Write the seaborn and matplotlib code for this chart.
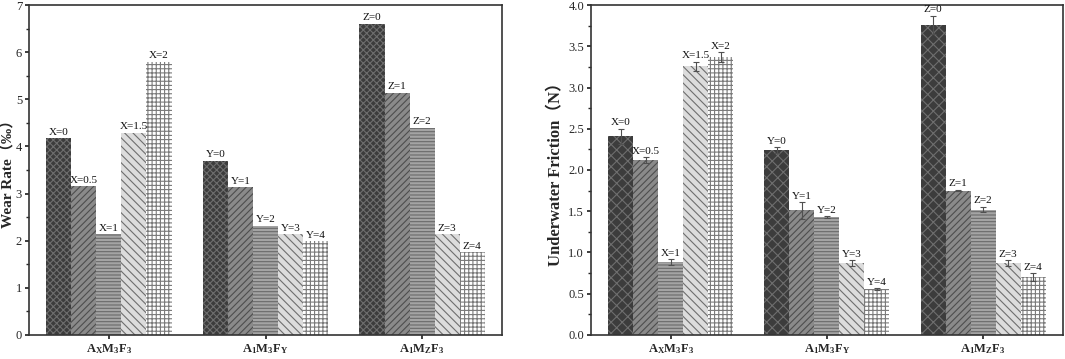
import numpy as np
import pandas as pd
import seaborn as sns
import matplotlib.pyplot as plt

# Data
groups = [r"$\mathbf{A_XM_3F_3}$", r"$\mathbf{A_1M_3F_Y}$", r"$\mathbf{A_1M_ZF_3}$"]
bar_labels = [
    ["X=0", "X=0.5", "X=1", "X=1.5", "X=2"],
    ["Y=0", "Y=1", "Y=2", "Y=3", "Y=4"],
    ["Z=0", "Z=1", "Z=2", "Z=3", "Z=4"],
]
wear_rate = [
    [4.17, 3.16, 2.14, 4.29, 5.80],
    [3.70, 3.13, 2.32, 2.14, 1.99],
    [6.60, 5.14, 4.40, 2.14, 1.75],
]
friction = [
    [2.41, 2.12, 0.88, 3.26, 3.37],
    [2.24, 1.51, 1.43, 0.87, 0.56],
    [3.76, 1.75, 1.52, 0.87, 0.70],
]
friction_err = [
    [0.09, 0.035, 0.035, 0.055, 0.06],
    [0.04, 0.10, 0.01, 0.04, 0.01],
    [0.11, 0.01, 0.035, 0.04, 0.05],
]

# styles for the five bars in each group
face_colors = ["#3c3c3c", "#8a8a8a", "#a4a4a4", "#dcdcdc", "#ffffff"]
hatch_colors = ["#6e6e6e", "#4e4e4e", "#6a6a6a", "#6e6e6e", "#7a7a7a"]
hatches_left = ["xxxxx", "/////", "-----", "\\\\\\\\", "++++"]
hatches_right = ["xxx", "/////", "-----", "\\\\\\\\", "++++"]

sns.set_theme(style="ticks")
plt.rcParams["font.family"] = ["Liberation Serif", "Noto Sans CJK SC"]
plt.rcParams["mathtext.fontset"] = "custom"
plt.rcParams["mathtext.rm"] = "Liberation Serif"
plt.rcParams["mathtext.bf"] = "Liberation Serif:bold"
plt.rcParams["hatch.linewidth"] = 0.8


def make_frame(values):
    rows = []
    for g, vals in zip(groups, values):
        for i, v in enumerate(vals):
            rows.append({"group": g, "pos": i, "value": v})
    return pd.DataFrame(rows)


def draw_panel(ax, values, hatches, errs=None):
    df = make_frame(values)
    sns.barplot(data=df, x="group", y="value", hue="pos", order=groups,
                hue_order=[0, 1, 2, 3, 4], width=0.8, dodge=True,
                errorbar=None, legend=False, ax=ax, linewidth=0)
    bars = [p for p in ax.patches if p.get_height() > 0]
    # seaborn orders patches by hue level, then by x group
    for k, p in enumerate(bars):
        hue_i = k // len(groups)
        grp_i = k % len(groups)
        p.set_facecolor(face_colors[hue_i])
        p.set_edgecolor(hatch_colors[hue_i])
        p.set_hatch(hatches[hue_i])
        p.set_linewidth(0)
        xc = p.get_x() + p.get_width() / 2
        top = p.get_height()
        if errs is not None:
            e = errs[grp_i][hue_i]
            ax.errorbar(xc, top, yerr=e, color="#505050", capsize=2.5,
                        elinewidth=0.8, capthick=0.8)
            top += e
        ax.annotate(bar_labels[grp_i][hue_i], (xc, top), xytext=(0, 1),
                    textcoords="offset points", ha="center", va="bottom",
                    fontsize=8, color="#111111")
    ax.set_xlim(-0.51, 2.51)
    ax.set_xlabel("")
    for s in ax.spines.values():
        s.set_visible(True)
        s.set_linewidth(1.2)
        s.set_color("#333333")
    ax.tick_params(axis="x", length=3, labelsize=9, pad=2)
    ax.tick_params(axis="y", length=3, labelsize=9, pad=2, direction="out")
    ax.tick_params(which="minor", axis="y", length=2)


fig = plt.figure(figsize=(10.65, 3.59), dpi=100)
ax1 = fig.add_axes([0.0272, 0.067, 0.4442, 0.919])
ax2 = fig.add_axes([0.555, 0.067, 0.443, 0.919])

ax1.set_ylim(0, 7)
ax1.set_yticks(np.arange(0, 8, 1))
ax1.set_yticks(np.arange(0.5, 7, 1), minor=True)
draw_panel(ax1, wear_rate, hatches_left)
ax1.set_ylabel("Wear Rate（‰）", fontsize=11, fontweight="bold", labelpad=1)

ax2.set_ylim(0, 4)
ax2.set_yticks(np.arange(0, 4.01, 0.5))
ax2.set_yticks(np.arange(0.25, 4, 0.5), minor=True)
ax2.set_yticklabels([f"{v:.1f}" for v in np.arange(0, 4.01, 0.5)])
draw_panel(ax2, friction, hatches_right, friction_err)
ax2.set_ylabel("Underwater Friction（N）", fontsize=12, fontweight="bold", labelpad=3)

fig.savefig("out.png", dpi=100)
plt.close(fig)
